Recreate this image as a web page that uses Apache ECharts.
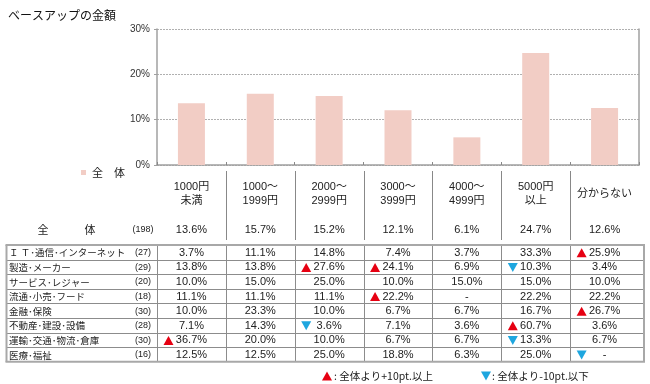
<!DOCTYPE html>
<html><head><meta charset="utf-8">
<script src="https://cdn.jsdelivr.net/npm/echarts@6/dist/echarts.min.js"></script>
<style>html,body{margin:0;padding:0;background:#fff}#c{width:650px;height:384px}</style>
</head><body><div id="c"></div>
<script>
const titleText = 'ベースアップの金額';
const seriesName = '全　体';
const categories = ['1000円\n未満','1000～\n1999円','2000～\n2999円','3000～\n3999円','4000～\n4999円','5000円\n以上','分からない'];
const yTicks = [0, 10, 20, 30];
const totalLabel = ['全', '体'];
const totalN = 198;
const totalValues = [13.6, 15.7, 15.2, 12.1, 6.1, 24.7, 12.6];
const rowNames = ['Ｉ Ｔ･通信･インターネット','製造･メーカー','サービス･レジャー','流通･小売･フード','金融･保険','不動産･建設･設備','運輸･交通･物流･倉庫','医療･福祉'];
const rowN = [27, 29, 20, 18, 30, 28, 30, 16];
const rowIT      = [3.7, 11.1, 14.8, 7.4, 3.7, 33.3, 25.9];
const rowMaker   = [13.8, 13.8, 27.6, 24.1, 6.9, 10.3, 3.4];
const rowService = [10.0, 15.0, 25.0, 10.0, 15.0, 15.0, 10.0];
const rowRetail  = [11.1, 11.1, 11.1, 22.2, null, 22.2, 22.2];
const rowFinance = [10.0, 23.3, 10.0, 6.7, 6.7, 16.7, 26.7];
const rowRealty  = [7.1, 14.3, 3.6, 7.1, 3.6, 60.7, 3.6];
const rowTrans   = [36.7, 20.0, 10.0, 6.7, 6.7, 13.3, 6.7];
const rowMedical = [12.5, 12.5, 25.0, 18.8, 6.3, 25.0, null];
const rowValues = [rowIT, rowMaker, rowService, rowRetail, rowFinance, rowRealty, rowTrans, rowMedical];
// markers: 1 = ▲ (+10pt以上), -1 = ▼ (-10pt以下)
const markIT      = [0,0,0,0,0,0,1];
const markMaker   = [0,0,1,1,0,-1,0];
const markService = [0,0,0,0,0,0,0];
const markRetail  = [0,0,0,1,0,0,0];
const markFinance = [0,0,0,0,0,0,1];
const markRealty  = [0,0,-1,0,0,1,0];
const markTrans   = [1,0,0,0,0,-1,0];
const markMedical = [0,0,0,0,0,0,-1];
const rowMarks = [markIT, markMaker, markService, markRetail, markFinance, markRealty, markTrans, markMedical];
const noteUp = ': 全体より+10pt.以上';
const noteDown = ': 全体より-10pt.以下';

const FONT = '"Liberation Sans", Arial, "Noto Sans CJK JP", sans-serif';
const JFONT = '"Noto Sans CJK JP", sans-serif';
const UP = '#e60012', DOWN = '#1ea6df';

const chart = echarts.init(document.getElementById('c'), null, {renderer: 'canvas'});
chart.setOption({
  animation: false,
  textStyle: {fontFamily: FONT},
  title: {text: titleText, left: 3, top: 4, textStyle: {fontFamily: JFONT, fontSize: 12, fontWeight: 'normal', color: '#111'}},
  legend: {data: [seriesName], left: 81, top: 167, padding: 0, itemWidth: 5, itemHeight: 5, icon: 'rect', itemGap: 0,
    textStyle: {fontFamily: JFONT, fontSize: 11, color: '#222', padding: [0,0,0,1]}},
  grid: {left: 157, right: 11, top: 29, bottom: 219, containLabel: false},
  xAxis: {type: 'category', data: categories,
    axisLine: {lineStyle: {color: '#a0a0a0', width: 1.5}},
    axisTick: {show: true, inside: true, length: 3, lineStyle: {color: '#888'}},
    axisLabel: {margin: 29, verticalAlign: 'middle', lineHeight: 14, fontSize: 11, color: '#222', fontFamily: FONT, interval: 0}},
  yAxis: [{type: 'value', min: 0, max: 30, interval: 10,
    axisLine: {show: true, lineStyle: {color: '#a0a0a0', width: 1.5}},
    axisTick: {show: true, length: 3, lineStyle: {color: '#a0a0a0'}},
    axisLabel: {formatter: '{value}%', fontSize: 10, color: '#333', margin: 7},
    splitLine: {show: true, lineStyle: {color: '#b0b0b0', type: [2, 1], width: 1}}},
    {type: 'value', min: 0, max: 30, interval: 10, position: 'right',
    axisLine: {show: true, lineStyle: {color: '#a0a0a0', width: 1.5}},
    axisTick: {show: false}, axisLabel: {show: false}, splitLine: {show: false}}],
  series: [{name: seriesName, type: 'bar', data: totalValues, barWidth: 27, yAxisIndex: 0,
    itemStyle: {color: '#f2cdc5'}}]
});

const xc = i => chart.convertToPixel({xAxisIndex: 0}, categories[i]);
const band = xc(1) - xc(0);
const bnd = i => xc(i) - band / 2; // left boundary of column i
const g = [];
function txt(x, y, s, o) {
  g.push({type: 'text', silent: true, x: x, y: y, style: Object.assign({text: s, fontFamily: FONT, fontSize: 11, fill: '#222', align: 'center', verticalAlign: 'middle'}, o || {})});
}
function line(x1, y1, x2, y2, c, w) {
  g.push({type: 'line', silent: true, shape: {x1: x1, y1: y1, x2: x2, y2: y2}, style: {stroke: c, lineWidth: w}});
}
function tri(cx, cy, dir) {
  const w = 5, h = 4.5;
  const pts = dir > 0 ? [[cx - w, cy + h], [cx + w, cy + h], [cx, cy - h]] : [[cx - w, cy - h], [cx + w, cy - h], [cx, cy + h]];
  g.push({type: 'polygon', silent: true, shape: {points: pts}, style: {fill: dir > 0 ? UP : DOWN}});
}
const fmt = v => v === null ? '-' : v.toFixed(1) + '%';

// header separators
for (let i = 1; i < categories.length; i++) {
  const x = Math.round(bnd(i)) + 0.5;
  line(x, 171, x, 240, '#888', 1);
}
// total row
const totalY = 229.5;
txt(43, totalY, totalLabel[0], {fontFamily: JFONT});
txt(90, totalY, totalLabel[1], {fontFamily: JFONT});
txt(143, totalY, '(' + totalN + ')', {fontSize: 9});
totalValues.forEach((v, i) => txt(xc(i), totalY, fmt(v)));

// table
const tTop = 245, rh = 14.6, tLeft = 6.5, tRight = 644;
const tBottom = tTop + rh * rowNames.length;
const nameRight = Math.round(bnd(0)) + 0.5;
for (let r = 1; r < rowNames.length; r++) {
  const y = Math.round(tTop + rh * r) + 0.5;
  line(tLeft, y, tRight, y, '#8c8c8c', 1);
}
line(nameRight, tTop, nameRight, tBottom, '#8c8c8c', 1);
for (let i = 1; i < categories.length; i++) {
  const x = Math.round(bnd(i)) + 0.5;
  line(x, tTop, x, tBottom, '#8c8c8c', 1);
}
// outer border
line(tLeft - 1, tTop, tRight + 1, tTop, '#a8a8a8', 2);
line(tLeft - 1, tBottom, tRight + 1, tBottom, '#a8a8a8', 2);
line(tLeft, tTop, tLeft, tBottom, '#a8a8a8', 2);
line(tRight, tTop, tRight, tBottom, '#a8a8a8', 2);

rowNames.forEach((nm, r) => {
  const y = tTop + rh * (r + 0.5) + 0.5;
  txt(9, y, nm, {fontFamily: JFONT, fontSize: 9.5, align: 'left'});
  txt(143, y, '(' + rowN[r] + ')', {fontSize: 9});
  rowValues[r].forEach((v, i) => {
    txt(xc(i), y, fmt(v));
    const m = rowMarks[r][i];
    if (m) tri(bnd(i) + 11.5, y, m);
  });
});

// footnote
const noteY = 376;
tri(327, noteY, 1);
txt(334, noteY, noteUp, {fontFamily: JFONT, fontSize: 10.5, align: 'left'});
tri(486, noteY, -1);
txt(492, noteY, noteDown, {fontFamily: JFONT, fontSize: 10.5, align: 'left'});

chart.setOption({graphic: {elements: g}});
</script></body></html>
